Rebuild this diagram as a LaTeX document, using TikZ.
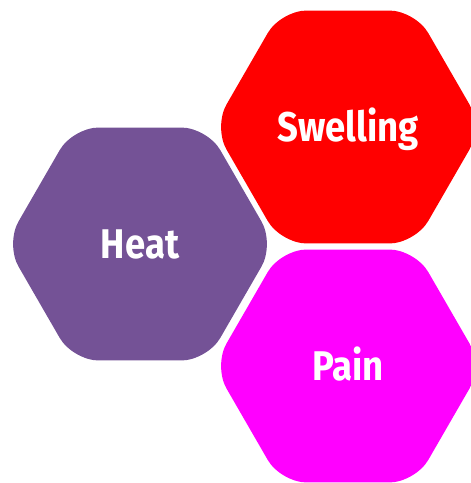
\documentclass[tikz,border=0pt]{standalone}
\usepackage{fontspec}
\setmainfont{Fira Sans}[FakeStretch=0.88]
\usetikzlibrary{positioning,shapes.geometric}
\definecolor{heatpurple}{RGB}{116,82,150}
\definecolor{swellred}{RGB}{255,0,0}
\definecolor{painmagenta}{RGB}{255,0,255}

\begin{document}
\begin{tikzpicture}[
    x=1pt, y=-1pt,
    font=\fontsize{41.5}{50}\selectfont\bfseries,
    hexa/.style={regular polygon, regular polygon sides=6, minimum size=269pt,
      inner sep=0pt, outer sep=0pt, rounded corners=26pt, text=white,
      text height=28.6pt, text depth=0pt}
  ]
    \useasboundingbox (0,0) rectangle (471,483);
    \node[hexa, fill=heatpurple] (heat) at (140,244) {Heat};
    \node[hexa, fill=swellred] (swelling) at (348,127) {Swelling};
    \node[hexa, fill=painmagenta, below=6pt of swelling] (pain) {Pain};
  \end{tikzpicture}
\end{document}
